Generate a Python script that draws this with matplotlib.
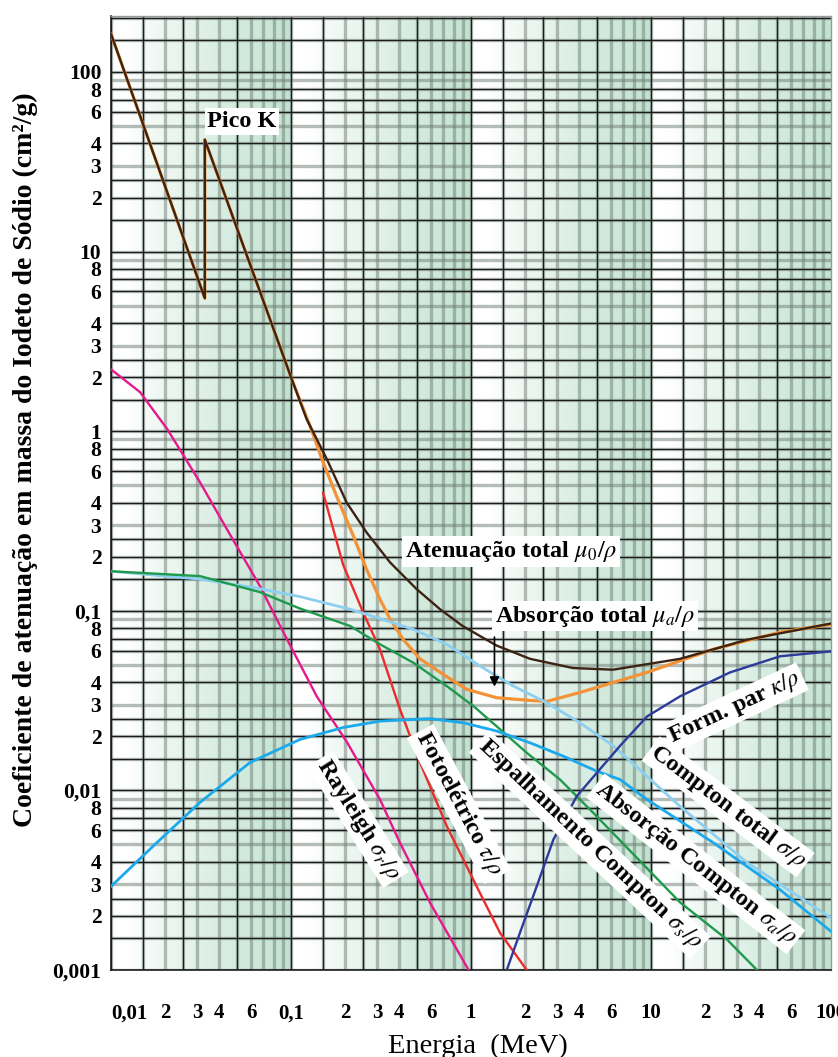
import matplotlib.pyplot as plt
import numpy as np

plt.rcParams['font.family'] = ['Liberation Serif', 'DejaVu Serif']
plt.rcParams['mathtext.fontset'] = 'stix'

# energia (MeV) e coeficiente de atenuacao (cm2/g)
e_aten = [0.01, 0.0332, 0.0332, 0.1, 0.122, 0.158, 0.204, 0.263, 0.355, 0.499, 0.673,
          0.903, 1.39, 2.13, 3.69, 6.15, 14.5, 34.1, 100]
mu_aten = [163, 5.5, 42, 2.0, 1.17, 0.70, 0.40, 0.273, 0.186, 0.132, 0.102,
           0.082, 0.064, 0.054, 0.048, 0.047, 0.054, 0.069, 0.085]

e_abs = [0.01, 0.0332, 0.0332, 0.1, 0.1275, 0.151, 0.179, 0.222, 0.263, 0.312, 0.355,
         0.421, 0.521, 0.733, 0.95, 1.39, 2.13, 2.64, 4.03, 9.5, 22.1, 52.1, 100]
mu_abs = [163, 5.5, 42, 2.0, 1.07, 0.669, 0.436, 0.261, 0.170, 0.116, 0.090,
          0.069, 0.054, 0.043, 0.0365, 0.0328, 0.0317, 0.0313, 0.0351, 0.0454, 0.061, 0.076, 0.084]

e_foto = [0.151, 0.195, 0.252, 0.312, 0.403, 0.521, 0.733, 1.12, 1.45, 2.04]
mu_foto = [0.452, 0.18, 0.0977, 0.061, 0.0283, 0.0143, 0.00633, 0.00269, 0.00161, 0.001]

e_rayl = [0.01, 0.0145, 0.0205, 0.0312, 0.0441, 0.0673, 0.095, 0.139, 0.205, 0.312,
          0.403, 0.592, 0.97]
mu_rayl = [2.21, 1.65, 1.03, 0.52, 0.284, 0.137, 0.0694, 0.0334, 0.0185, 0.00891,
           0.00511, 0.00237, 0.001]

e_ctot = [0.01, 0.0312, 0.0615, 0.112, 0.213, 0.312, 0.478, 0.733, 1.12, 1.72, 2.63,
          4.03, 6.17, 14.5, 34.1, 100]
mu_ctot = [0.166, 0.15, 0.135, 0.12, 0.102, 0.0905, 0.0788, 0.0651, 0.0493, 0.0381, 0.0308,
           0.0238, 0.0177, 0.00815, 0.00397, 0.00195]

e_cesp = [0.01, 0.0312, 0.0673, 0.112, 0.213, 0.312, 0.478, 0.733, 1.03, 1.45, 2.04,
          3.12, 4.78, 14.5, 26.4, 38.8]
mu_cesp = [0.166, 0.156, 0.127, 0.103, 0.0823, 0.0651, 0.0514, 0.0381, 0.0295, 0.0219, 0.0162,
           0.0115, 0.0075, 0.00238, 0.00148, 0.001]

e_cabs = [0.01, 0.0171, 0.0312, 0.0592, 0.112, 0.195, 0.312, 0.592, 0.906, 1.39, 2.13,
          3.26, 4.99, 6.73, 9.5, 22.1, 52.1, 100]
mu_cabs = [0.00292, 0.00488, 0.00857, 0.0143, 0.0192, 0.0224, 0.0243, 0.0251, 0.0238, 0.0214, 0.0184,
           0.0155, 0.0128, 0.0115, 0.0089, 0.00513, 0.0028, 0.00164]

e_par = [1.58, 1.87, 2.32, 2.87, 3.87, 6.73, 9.5, 14.5, 27.5, 52.1, 100]
mu_par = [0.001, 0.00161, 0.00293, 0.00533, 0.00929, 0.0177, 0.0258, 0.0334, 0.0454, 0.0558, 0.0595]

x_ticks = [0.01, 0.02, 0.03, 0.04, 0.06, 0.1, 0.2, 0.3, 0.4, 0.6, 1, 2, 3, 4, 6,
           10, 20, 30, 40, 60, 100]
x_labels = ['0,01', '2', '3', '4', '6', '0,1', '2', '3', '4', '6', '1', '2', '3', '4', '6',
            '10', '2', '3', '4', '6', '100']
y_ticks = [0.001, 0.002, 0.003, 0.004, 0.006, 0.008, 0.01, 0.02, 0.03, 0.04, 0.06, 0.08,
           0.1, 0.2, 0.3, 0.4, 0.6, 0.8, 1, 2, 3, 4, 6, 8, 10, 20, 30, 40, 60, 80, 100]
y_labels = ['0,001', '2', '3', '4', '6', '8', '0,01', '2', '3', '4', '6', '8',
            '0,1', '2', '3', '4', '6', '8', '1', '2', '3', '4', '6', '8', '10', '2', '3', '4', '6', '8', '100']

fig = plt.figure(figsize=(8.38, 10.57), dpi=100)
rect = [111 / 838, 1 - 970 / 1057, 720 / 838, 954 / 1057]

# fundo: degrade branco -> verde em cada decada de energia
bg = fig.add_axes(rect, zorder=0)
u = np.linspace(0, 1, 1600)
frac = (u * 4) % 1.0
t = np.clip((frac - 0.1) / 0.9, 0, 1) ** 0.85
white = np.array([1.0, 1.0, 1.0])
green = np.array([0.76, 0.89, 0.82])
rgb = white[None, :] + t[:, None] * (green - white)[None, :]
bg.imshow(rgb[None, :, :], aspect='auto', extent=[0, 1, 0, 1], interpolation='bilinear')
bg.set_axis_off()

ax = fig.add_axes(rect, zorder=1)
ax.set_facecolor('none')
ax.set_xscale('log')
ax.set_yscale('log')
ax.set_xlim(0.01, 100)
ax.set_ylim(0.001, 205)

# papel milimetrado log-log
mults = [1, 1.5, 2, 2.5, 3, 4, 5, 6, 7, 8, 9]
for d in [0.01, 0.1, 1, 10]:
    for m in mults:
        ax.axvline(d * m, color='#6f7d75', lw=2.4, alpha=0.5, zorder=1)
        if m in (1, 1.5, 2.5, 5):
            ax.axvline(d * m, color='#1c1c1c', lw=0.9, zorder=1.1)
for d in [0.001, 0.01, 0.1, 1, 10, 100]:
    for m in mults:
        if d * m > 205:
            continue
        ax.axhline(d * m, color='#6f7d75', lw=2.4, alpha=0.5, zorder=1)
        if m in (1, 1.5, 2, 2.5, 4, 6, 7, 8):
            ax.axhline(d * m, color='#1c1c1c', lw=0.9, zorder=1.1)

lw = 1.7
ax.plot(e_abs, mu_abs, color='#f39237', lw=lw + 0.6, zorder=3)
ax.plot(e_aten, mu_aten, color='#3d2314', lw=lw, zorder=4)
ax.plot(e_foto, mu_foto, color='#ec2b2b', lw=lw, zorder=3)
ax.plot(e_rayl, mu_rayl, color='#e6198c', lw=lw, zorder=3)
ax.plot(e_ctot, mu_ctot, color='#8ccff0', lw=lw + 0.3, zorder=3)
ax.plot(e_cesp, mu_cesp, color='#1f9a4c', lw=lw, zorder=3)
ax.plot(e_cabs, mu_cabs, color='#1ba9ec', lw=lw + 0.3, zorder=3)
ax.plot(e_par, mu_par, color='#2e3a99', lw=lw, zorder=3)

box = dict(facecolor='white', edgecolor='none', pad=2.0)
fs = 17.5
ax.text(0.0534, 53, 'Pico K', fontsize=fs, fontweight='bold', ha='center', va='center', bbox=box, zorder=5)
ax.text(1.67, 0.214, r'Atenuação total $\mu_0/\rho$', fontsize=fs, fontweight='bold',
        ha='center', va='center', bbox=box, zorder=5)
ax.text(4.88, 0.0932, r'Absorção total $\mu_a/\rho$', fontsize=fs, fontweight='bold',
        ha='center', va='center', bbox=box, zorder=5)
ax.annotate('', xy=(1.35, 0.0365), xytext=(1.35, 0.074),
            arrowprops=dict(arrowstyle='-|>', color='black', lw=1.2, mutation_scale=14), zorder=5)

rot_labels = [
    (0.236, 0.0069, r'Rayleigh $\sigma_r/\rho$', -58),
    (0.858, 0.0084, r'Fotoelétrico $\tau/\rho$', -62),
    (4.57, 0.0050, r'Espalhamento Compton $\sigma_s/\rho$', -43),
    (17.7, 0.0039, r'Absorção Compton $\sigma_a/\rho$', -38),
    (26.8, 0.0081, r'Compton total $\sigma/\rho$', -37),
    (29.3, 0.0289, r'Form. par $\kappa/\rho$', 25),
]
for ex, my, txt, ang in rot_labels:
    ax.text(ex, my, txt, fontsize=fs, fontweight='bold', rotation=ang, rotation_mode='anchor',
            ha='center', va='center', bbox=box, zorder=5)

ax.xaxis.set_minor_locator(plt.NullLocator())
ax.yaxis.set_minor_locator(plt.NullLocator())
ax.set_xticks(x_ticks)
ax.set_xticklabels(x_labels, fontsize=15, fontweight='bold')
ax.set_yticks(y_ticks)
ax.set_yticklabels(y_labels, fontsize=15.5, fontweight='bold')
ax.get_xticklabels()[0].set_ha('left')
ax.tick_params(axis='x', length=0, pad=24)
ax.tick_params(axis='y', length=0, pad=7)

for side in ['left', 'bottom']:
    ax.spines[side].set_color('#1c1c1c')
    ax.spines[side].set_linewidth(1.2)
for side in ['top', 'right']:
    ax.spines[side].set_color('#9a9a9a')
    ax.spines[side].set_linewidth(1.0)

fig.text(0.030, 0.565, 'Coeficiente de atenuação em massa do Iodeto de Sódio (cm²/g)',
         rotation=90, fontsize=20, fontweight='bold', ha='center', va='center')
fig.text(478 / 838, 1 - 1046 / 1057, 'Energia  (MeV)', fontsize=20.5, ha='center', va='center')

fig.savefig('out.png', dpi=100)
